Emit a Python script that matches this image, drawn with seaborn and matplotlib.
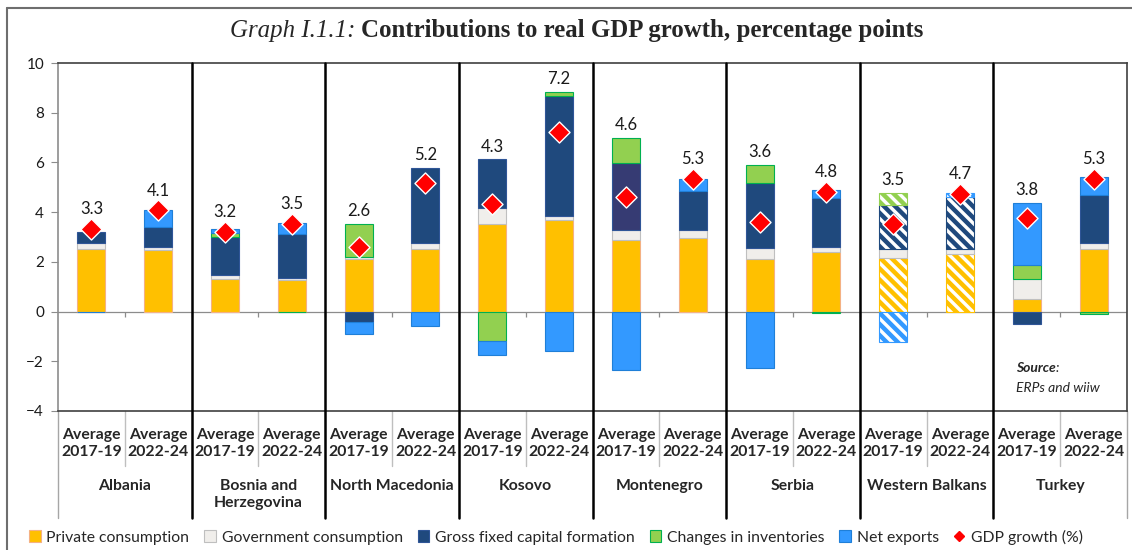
import numpy as np
import pandas as pd
import matplotlib
matplotlib.use("Agg")
import matplotlib.pyplot as plt
import matplotlib.transforms as mtransforms
from matplotlib.patches import Patch
from matplotlib.lines import Line2D
import seaborn as sns

# Data (percentage points), two periods per country
countries = ["Albania", "Bosnia and\nHerzegovina", "North Macedonia", "Kosovo",
             "Montenegro", "Serbia", "Western Balkans", "Turkey"]
periods = ["Average\n2017-19", "Average\n2022-24"]

private = [2.50, 2.46, 1.30, 1.26, 2.10, 2.53, 3.51, 3.67,
           2.88, 2.97, 2.10, 2.38, 2.14, 2.32, 0.50, 2.53]
government = [0.27, 0.14, 0.17, 0.11, 0.11, 0.24, 0.67, 0.17,
              0.40, 0.31, 0.47, 0.22, 0.39, 0.21, 0.80, 0.24]
gfcf = [0.44, 0.81, 1.53, 1.74, -0.40, 3.01, 1.94, 4.85,
        2.69, 1.59, 2.61, 1.98, 1.75, 2.08, -0.50, 1.90]
inventories = [0.00, 0.00, 0.16, -0.03, 1.32, 0.00, -1.18, 0.15,
               1.03, 0.00, 0.72, -0.04, 0.50, 0.00, 0.57, -0.08]
net_exports = [-0.03, 0.66, 0.17, 0.45, -0.51, -0.59, -0.58, -1.57,
               -2.36, 0.47, -2.25, 0.33, -1.24, 0.17, 2.51, 0.74]
gdp_growth = [3.31, 4.07, 3.20, 3.54, 2.61, 5.18, 4.31, 7.24,
              4.60, 5.34, 3.61, 4.83, 3.51, 4.74, 3.78, 5.34]

components = [
    ("Private consumption", private, "#FFC000", "#F4B183"),
    ("Government consumption", government, "#F0EEEB", "#BFBFBF"),
    ("Gross fixed capital formation", gfcf, "#1F497D", "#2F5597"),
    ("Changes in inventories", inventories, "#92D050", "#00B050"),
    ("Net exports", net_exports, "#3399FF", "#1F7FD8"),
]

sns.set_theme(style="white")
plt.rcParams["font.family"] = ["Lato", "DejaVu Sans"]
plt.rcParams["hatch.linewidth"] = 3.2

W, H = 1132, 550
def fx(x):
    return x / W
def fy(y):
    return 1 - y / H

fig = plt.figure(figsize=(W / 100, H / 100), dpi=100)
ax = fig.add_axes([fx(58), fy(411), fx(1127) - fx(58), fy(63) - fy(411)])
blend = mtransforms.blended_transform_factory(ax.transData, fig.transFigure)

n = len(gdp_growth)
slots = np.arange(n)

# stacked bars, positives upward and negatives downward
pos_base = np.zeros(n)
neg_base = np.zeros(n)
for name, vals, face, edge in components:
    vals = np.asarray(vals, dtype=float)
    bottom = np.where(vals >= 0, pos_base, neg_base)
    sns.barplot(x=slots, y=vals, bottom=bottom, color=face, saturation=1,
                width=0.42, edgecolor=edge, linewidth=0.8, errorbar=None,
                ax=ax, zorder=2)
    pos_base += np.clip(vals, 0, None)
    neg_base += np.clip(vals, None, 0)

# hide empty segments so they leave no edge line
for cont in ax.containers:
    for p in cont.patches:
        if p.get_height() == 0:
            p.set_visible(False)

# Montenegro 2017-19 investment is drawn in a darker shade
ax.containers[2].patches[2 * countries.index("Montenegro")].set_facecolor("#363B73")

# Western Balkans average bars are hatched
wb = countries.index("Western Balkans")
for cont, (name, vals, face, edge) in zip(ax.containers, components):
    if name == "Government consumption":
        continue
    for j in (2 * wb, 2 * wb + 1):
        p = cont.patches[j]
        p.set_facecolor("white")
        p.set_edgecolor(face)
        p.set_hatch("\\\\\\")

sns.scatterplot(x=slots, y=gdp_growth, marker="D", s=115, color="#FF0000",
                edgecolor="white", linewidth=1, ax=ax, zorder=5)

for i in range(n):
    y = max(pos_base[i], gdp_growth[i] + 0.3) + 0.5
    ax.text(i, y, f"{gdp_growth[i]:.1f}", ha="center", va="center",
            fontsize=12, color="#1A1A1A")

ax.axhline(0, color="#8C8C8C", lw=0.9, zorder=1)
ax.vlines(np.arange(0.5, n, 1), -0.2, 0, color="#8C8C8C", lw=0.9, zorder=1)

ax.set_xlim(-0.5, n - 0.5)
ax.set_ylim(-4, 10)
ax.set_yticks(range(-4, 11, 2))
ax.set_xticks([])
ax.set_xlabel("")
ax.set_ylabel("")
ax.tick_params(axis="y", left=True, length=5, width=0.8, color="#8C8C8C",
               labelsize=11, pad=5, labelcolor="#1A1A1A")
for side, sp in ax.spines.items():
    sp.set_visible(True)
    sp.set_color("#8C8C8C" if side == "left" else "#404040")
    sp.set_linewidth(1.2)

# multi-level category axis
for g in range(1, len(countries)):
    ax.plot([2 * g - 0.5] * 2, [fy(63), fy(518)], transform=blend,
            color="black", lw=1.8, clip_on=False, zorder=6)
for g in range(len(countries)):
    ax.plot([2 * g + 0.5] * 2, [fy(411), fy(466)], transform=blend,
            color="#BFBFBF", lw=1, clip_on=False)
for xe in (-0.5, n - 0.5):
    ax.plot([xe] * 2, [fy(411), fy(518)], transform=blend,
            color="#A6A6A6", lw=1, clip_on=False)
for i in range(n):
    ax.text(i, fy(443.5), periods[i % 2], transform=blend, ha="center",
            va="center", fontsize=11.3, fontweight="bold", linespacing=1.2)
for g, c in enumerate(countries):
    ax.text(2 * g + 0.5, fy(479), c, transform=blend, ha="center", va="top",
            fontsize=11.3, fontweight="bold", linespacing=1.25)

# source note
src = fig.text(fx(1016), fy(368), "Source", fontsize=10, fontstyle="italic",
               fontweight="bold", va="center")
ax.annotate(":", xy=(1, 0), xycoords=src, va="bottom", ha="left",
            fontsize=10, fontstyle="italic", annotation_clip=False)
fig.text(fx(1016), fy(388), "ERPs and wiiw", fontsize=10, fontstyle="italic",
         va="center")

# title
t1 = fig.text(fx(230), fy(31), "Graph I.1.1:", family="Liberation Serif",
              fontsize=17.9, fontstyle="italic", va="center", ha="left")
ax.annotate("Contributions to real GDP growth, percentage points",
            xy=(1, 0), xycoords=t1, xytext=(6, 0), textcoords="offset pixels",
            va="bottom", ha="left", family="Liberation Serif", fontsize=17.9,
            fontweight="bold", annotation_clip=False)

# legend
handles = [Patch(facecolor=face, edgecolor=edge, lw=0.8)
           for name, vals, face, edge in components]
handles.append(Line2D([], [], marker="D", color="#FF0000", linestyle="none",
                      markersize=5))
labels = [c[0] for c in components] + ["GDP growth (%)"]
fig.legend(handles, labels, loc="center", bbox_to_anchor=(fx(556), fy(537)),
           ncol=6, frameon=False, fontsize=11.3, handlelength=0.75,
           handleheight=0.75, handletextpad=0.35, columnspacing=0.95,
           borderaxespad=0)

# outer frame
fig.add_artist(Line2D([fx(7), 1], [fy(8), fy(8)], transform=fig.transFigure,
                      color="#6E6E6E", lw=1.5))
fig.add_artist(Line2D([fx(7), fx(7)], [fy(8), 0], transform=fig.transFigure,
                      color="#6E6E6E", lw=1.5))

fig.savefig("out.png", dpi=100)
